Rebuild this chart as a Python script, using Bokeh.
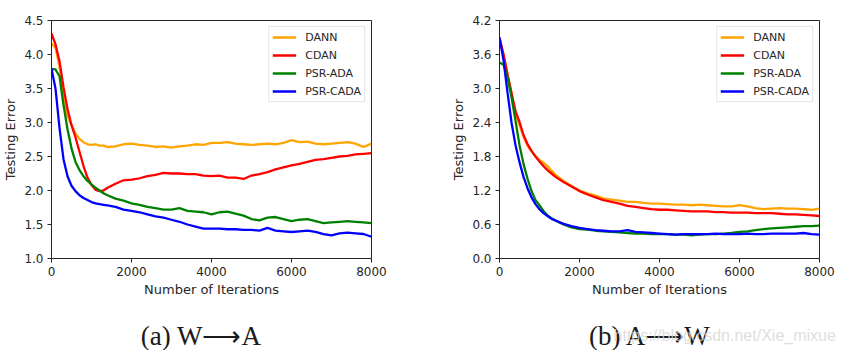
from bokeh.plotting import figure
from bokeh.layouts import column, row
from bokeh.models import FixedTicker, NumeralTickFormatter, Range1d
from bokeh.core.properties import value
from bokeh.embed import file_html
from bokeh.resources import INLINE

iters = [0, 100, 200, 300, 400, 500, 600, 700, 800, 900, 1000, 1100, 1200, 1300, 1400,
         1600, 1800, 2000, 2200, 2400, 2600, 2800, 3000, 3200, 3400, 3600, 3800, 4000,
         4200, 4400, 4600, 4800, 5000, 5200, 5400, 5600, 5800, 6000, 6200, 6400, 6600,
         6800, 7000, 7200, 7400, 7600, 7800, 8000]

series_names = ["DANN", "CDAN", "PSR-ADA", "PSR-CADA"]
series_colors = ["orange", "red", "green", "blue"]

# (a) W -> A
wa_dann = [4.16, 4.10, 3.82, 3.40, 3.10, 2.96, 2.84, 2.76, 2.71, 2.68, 2.67, 2.68, 2.66, 2.66, 2.64,
           2.65, 2.68, 2.69, 2.67, 2.66, 2.64, 2.65, 2.63, 2.65, 2.66, 2.68, 2.67, 2.70,
           2.70, 2.71, 2.69, 2.68, 2.67, 2.68, 2.69, 2.68, 2.70, 2.74, 2.71, 2.72, 2.69,
           2.68, 2.69, 2.70, 2.71, 2.69, 2.64, 2.69]
wa_cdan = [4.31, 4.15, 3.90, 3.52, 3.20, 2.96, 2.78, 2.57, 2.36, 2.19, 2.08, 2.01, 1.99, 2.00, 2.04,
           2.10, 2.15, 2.16, 2.18, 2.21, 2.23, 2.26, 2.25, 2.25, 2.24, 2.24, 2.22, 2.21,
           2.22, 2.19, 2.19, 2.17, 2.22, 2.24, 2.27, 2.31, 2.34, 2.37, 2.39, 2.42, 2.45,
           2.46, 2.48, 2.50, 2.51, 2.53, 2.54, 2.55]
wa_psr_ada = [3.79, 3.78, 3.68, 3.26, 2.90, 2.62, 2.42, 2.30, 2.21, 2.14, 2.09, 2.04, 2.00, 1.96, 1.93,
              1.88, 1.85, 1.81, 1.79, 1.76, 1.74, 1.72, 1.72, 1.74, 1.70, 1.69, 1.68, 1.65,
              1.68, 1.69, 1.66, 1.63, 1.58, 1.56, 1.60, 1.61, 1.58, 1.55, 1.57, 1.58, 1.55,
              1.52, 1.53, 1.54, 1.55, 1.54, 1.53, 1.52]
wa_psr_cada = [3.79, 3.50, 2.92, 2.46, 2.21, 2.07, 1.99, 1.93, 1.89, 1.86, 1.83, 1.81, 1.80, 1.79, 1.78,
               1.76, 1.72, 1.70, 1.68, 1.65, 1.62, 1.60, 1.57, 1.54, 1.50, 1.47, 1.44, 1.44,
               1.44, 1.43, 1.43, 1.42, 1.42, 1.41, 1.45, 1.41, 1.40, 1.39, 1.40, 1.41, 1.39,
               1.36, 1.34, 1.37, 1.38, 1.37, 1.36, 1.32]

# (b) A -> W
aw_dann = [3.89, 3.60, 3.25, 2.92, 2.56, 2.35, 2.15, 1.99, 1.89, 1.80, 1.74, 1.69, 1.63, 1.55, 1.48,
           1.37, 1.28, 1.20, 1.15, 1.11, 1.06, 1.04, 1.02, 1.00, 1.00, 0.98, 0.97, 0.97,
           0.96, 0.95, 0.95, 0.94, 0.95, 0.94, 0.93, 0.92, 0.92, 0.94, 0.92, 0.89, 0.87,
           0.88, 0.89, 0.88, 0.88, 0.87, 0.86, 0.88]
aw_cdan = [3.89, 3.60, 3.25, 2.92, 2.60, 2.41, 2.18, 2.02, 1.90, 1.80, 1.71, 1.63, 1.56, 1.50, 1.44,
           1.35, 1.27, 1.19, 1.13, 1.08, 1.03, 1.00, 0.97, 0.93, 0.91, 0.89, 0.87, 0.86,
           0.86, 0.85, 0.84, 0.83, 0.83, 0.83, 0.82, 0.82, 0.81, 0.81, 0.81, 0.80, 0.80,
           0.80, 0.79, 0.78, 0.78, 0.77, 0.76, 0.75]
aw_psr_ada = [3.46, 3.42, 3.20, 2.85, 2.43, 2.00, 1.67, 1.41, 1.19, 1.03, 0.94, 0.84, 0.76, 0.71, 0.67,
              0.60, 0.55, 0.52, 0.51, 0.49, 0.48, 0.47, 0.46, 0.45, 0.44, 0.44, 0.43, 0.43,
              0.43, 0.42, 0.42, 0.41, 0.42, 0.43, 0.43, 0.44, 0.45, 0.47, 0.48, 0.50, 0.52,
              0.53, 0.54, 0.55, 0.56, 0.57, 0.57, 0.58]
aw_psr_cada = [3.90, 3.50, 2.93, 2.40, 2.00, 1.70, 1.44, 1.24, 1.08, 0.96, 0.87, 0.80, 0.75, 0.70, 0.67,
               0.61, 0.57, 0.54, 0.52, 0.50, 0.49, 0.48, 0.48, 0.50, 0.47, 0.46, 0.45, 0.44,
               0.43, 0.42, 0.43, 0.43, 0.43, 0.43, 0.44, 0.43, 0.43, 0.43, 0.44, 0.43, 0.43,
               0.44, 0.44, 0.44, 0.44, 0.45, 0.43, 0.42]

x_ticks = [0, 2000, 4000, 6000, 8000]
wa_y_ticks = [1.0, 1.5, 2.0, 2.5, 3.0, 3.5, 4.0, 4.5]
aw_y_ticks = [0.0, 0.6, 1.2, 1.8, 2.4, 3.0, 3.6, 4.2]

x_label = "Number of Iterations"
y_label = "Testing Error"
captions = ["(a)  W\u27f6A", "(b)  A\u27f6W"]
watermark = "https://blog.csdn.net/Xie_mixue"

SANS = "DejaVu Sans"
AXC = "#262626"


def make_panel(data, yticks, left_border, right_border):
    p = figure(frame_width=320, frame_height=238,
               min_border_left=left_border, min_border_right=right_border,
               min_border_top=20, min_border_bottom=42,
               x_range=Range1d(0, 8000), y_range=Range1d(yticks[0], yticks[-1]),
               output_backend="svg", toolbar_location=None)
    for vals, name, col in zip(data, series_names, series_colors):
        p.line(iters, vals, line_color=col, line_width=2.3, legend_label=name)
    p.xgrid.visible = False
    p.ygrid.visible = False
    p.outline_line_color = AXC
    p.outline_line_width = 1
    p.background_fill_color = "white"
    p.border_fill_color = "white"

    p.xaxis.ticker = FixedTicker(ticks=x_ticks)
    p.yaxis.ticker = FixedTicker(ticks=yticks)
    p.xaxis.formatter = NumeralTickFormatter(format="0")
    p.yaxis.formatter = NumeralTickFormatter(format="0.0")
    for ax in (p.xaxis[0], p.yaxis[0]):
        ax.axis_line_color = AXC
        ax.major_tick_line_color = AXC
        ax.major_tick_out = 4
        ax.major_tick_in = 0
        ax.minor_tick_line_color = None
        ax.major_label_text_font = SANS
        ax.major_label_text_font_size = "12px"
        ax.major_label_text_color = AXC
        ax.major_label_standoff = 4
        ax.axis_label_text_font = SANS
        ax.axis_label_text_font_size = "13px"
        ax.axis_label_text_font_style = "normal"
        ax.axis_label_text_color = AXC
        ax.axis_label_standoff = 3
    p.xaxis.axis_label = x_label
    p.yaxis.axis_label = y_label

    lg = p.legend[0]
    lg.location = "top_right"
    lg.margin = 6
    lg.padding = 3
    lg.spacing = 4
    lg.glyph_width = 24
    lg.glyph_height = 14
    lg.label_height = 14
    lg.label_standoff = 9
    lg.label_text_font = SANS
    lg.label_text_font_size = "11px"
    lg.label_text_color = AXC
    lg.border_line_color = "#cccccc"
    lg.border_line_width = 1
    lg.background_fill_alpha = 0.8
    return p


p1 = make_panel([wa_dann, wa_cdan, wa_psr_ada, wa_psr_cada], wa_y_ticks, 50, 51)
p2 = make_panel([aw_dann, aw_cdan, aw_psr_ada, aw_psr_cada], aw_y_ticks, 77, 24)

# caption strip (pixel coordinate space 842 x 50)
cap = figure(frame_width=842, frame_height=50, min_border=0,
             x_range=Range1d(0, 842), y_range=Range1d(0, 50),
             output_backend="svg", toolbar_location=None)
cap.axis.visible = False
cap.grid.visible = False
cap.outline_line_color = None
cap_x = [204, 653]
cap.text(x=cap_x, y=[15, 15], text=captions, text_align="center", text_baseline="alphabetic",
         text_font=value("Liberation Serif"), text_font_size="27px", text_color="#1a1a1a")
cap.text(x=[613], y=[15], text=[watermark], text_align="left", text_baseline="alphabetic",
         text_font=value("Liberation Sans"), text_font_size="16px",
         text_color="#d6d6d6", text_alpha=0.8)

layout = column(row(p1, p2, spacing=0), cap, spacing=0)
open("out.html", "w").write(file_html(layout, INLINE))
